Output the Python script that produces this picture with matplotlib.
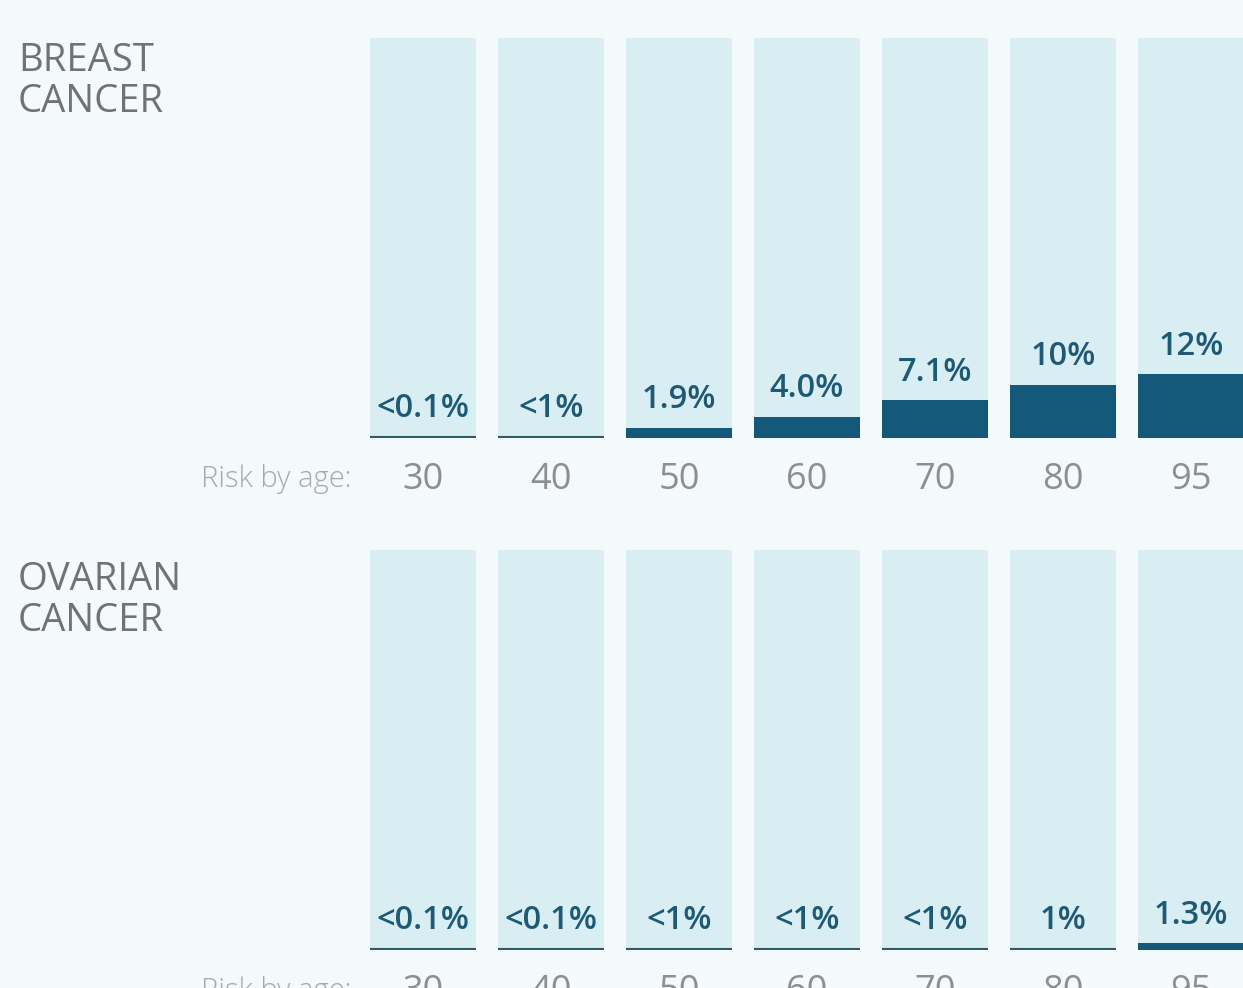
import matplotlib
matplotlib.use("Agg")
import matplotlib.pyplot as plt

# values
ages = ["30", "40", "50", "60", "70", "80", "95"]
breast_labels = ["<0.1%", "<1%", "1.9%", "4.0%", "7.1%", "10%", "12%"]
breast_values = [0.1, 1, 1.9, 4.0, 7.1, 10, 12]
ovarian_labels = ["<0.1%", "<0.1%", "<1%", "<1%", "<1%", "1%", "1.3%"]
ovarian_values = [0.1, 0.1, 1, 1, 1, 1, 1.3]

W, H = 1243, 988
BG = "#f4f9fc"
COL = "#d9eef2"
BAR = "#15597a"
LINE = "#2f5868"
VAL = "#1f5a75"
YMAX = 75

plt.rcParams["font.family"] = ["Open Sans", "DejaVu Sans"]

fig = plt.figure(figsize=(W / 100, H / 100), dpi=100)
fig.patch.set_facecolor(BG)


def panel(top, values, labels, title, title_top):
    bottom = top + 400
    left, right = 350, W
    ax = fig.add_axes([left / W, 1 - bottom / H, (right - left) / W, 400 / H])
    ax.set_facecolor(BG)
    ax.patch.set_alpha(0)
    x = list(range(len(values)))
    ax.bar(x, [YMAX] * len(x), width=106 / 128, color=COL, zorder=1)
    for i, v in enumerate(values):
        if v <= 1:
            # tiny values are shown as a thin rule
            ax.hlines(0.2, i - 53 / 128, i + 53 / 128, color=LINE, lw=1.5, zorder=2)
            top_v = 0.3
        else:
            ax.bar(i, v, width=106 / 128, color=BAR, zorder=2)
            top_v = v
        ax.annotate(labels[i], (i, top_v), xytext=(0, 14), textcoords="offset points",
                    ha="center", va="baseline", fontsize=23.5, color=VAL,
                    fontweight="semibold", zorder=3)
        ax.annotate(ages[i], (i, 0), xytext=(0, -36.5), textcoords="offset points",
                    ha="center", va="baseline", fontsize=26, color="#8e8e8e",
                    annotation_clip=False)
    ax.set_xlim((left - 423) / 128, (right - 423) / 128)
    ax.set_ylim(0, YMAX)
    ax.axis("off")

    fig.text(352 / W, 1 - (bottom + 49) / H, "Risk by age:", ha="right", va="baseline",
             fontsize=21, color="#a8a8a8", fontweight="light")
    fig.text(18 / W, 1 - title_top / H, title, ha="left", va="top",
             fontsize=27.5, color="#727272", linespacing=1.12)
    return ax


panel(38, breast_values, breast_labels, "BREAST\nCANCER", 42)
panel(550, ovarian_values, ovarian_labels, "OVARIAN\nCANCER", 561)

fig.savefig("out.png", dpi=100, facecolor=BG)
